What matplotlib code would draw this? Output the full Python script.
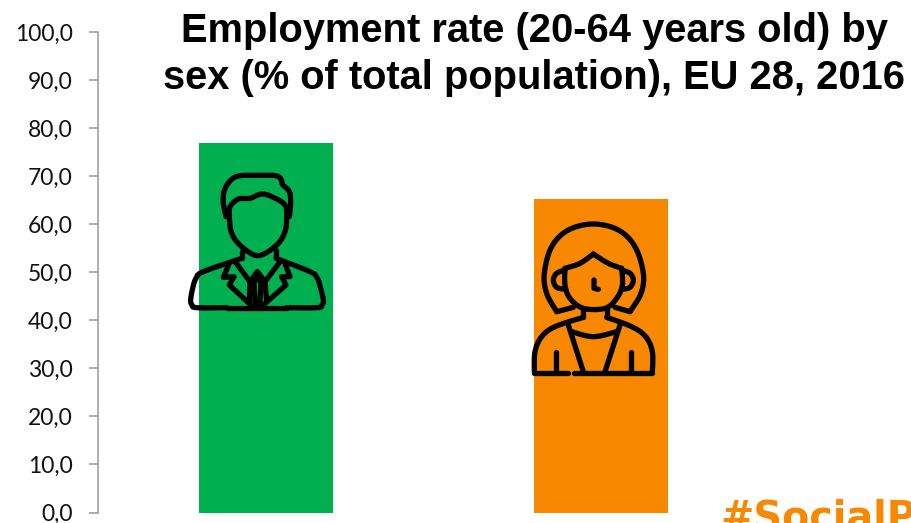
import matplotlib
matplotlib.use("Agg")
import matplotlib.pyplot as plt
import numpy as np

W, H = 912, 523

groups = ["Men", "Women"]
rates = [76.9, 65.3]
bar_colors = ["#00B050", "#F78800"]
yticks = [0, 10, 20, 30, 40, 50, 60, 70, 80, 90, 100]
ytick_labels = ["0,0", "10,0", "20,0", "30,0", "40,0", "50,0", "60,0", "70,0", "80,0", "90,0", "100,0"]
title = "Employment rate (20-64 years old) by\nsex (% of total population), EU 28, 2016"
hashtag = "#SocialPillar"

# outlines of the two people icons, in local icon units
man_lines = [
    ([(168, 170), (160, 130), (162, 95), (178, 65), (205, 48), (260, 46), (318, 47), (334, 60), (338, 74),
      (358, 95), (362, 130), (358, 170)], True),
    ([(178, 170), (180, 140), (205, 117), (240, 115), (275, 102), (310, 112), (345, 135), (350, 170), (345, 215),
      (320, 255), (265, 287), (215, 260), (185, 220), (178, 170)], True),
    ([(215, 272), (215, 295)], False),
    ([(318, 270), (318, 295)], False),
    ([(215, 295), (100, 335), (78, 355), (68, 385), (62, 420), (66, 435), (80, 443), (170, 443)], True),
    ([(318, 295), (420, 335), (442, 355), (452, 385), (460, 420), (456, 435), (442, 443), (350, 443)], True),
    ([(170, 443), (350, 443)], False),
    ([(178, 310), (160, 352), (192, 350), (178, 375), (250, 442)], False),
    ([(345, 310), (360, 350), (335, 350), (348, 375), (272, 442)], False),
    ([(195, 305), (240, 365), (262, 335), (285, 365), (330, 305)], False),
    ([(262, 345), (252, 370), (255, 425), (262, 442), (270, 425), (273, 370), (262, 345)], False),
    ([(240, 365), (238, 425)], False),
    ([(285, 365), (290, 425)], False),
]
woman_lines = [
    ([(125, 305), (95, 250), (88, 190), (110, 110), (160, 60), (235, 42), (310, 60), (360, 110), (385, 190),
      (378, 250), (345, 305)], True),
    ([(125, 305), (175, 292)], False),
    ([(345, 305), (300, 292)], False),
    ([(150, 175), (195, 160), (235, 132)], True),
    ([(235, 132), (280, 160), (320, 175)], True),
    ([(150, 175), (150, 225), (165, 265), (205, 295), (270, 295), (305, 265), (322, 225), (320, 175)], True),
    ([(150, 180), (125, 190), (115, 210), (125, 232), (152, 238)], True),
    ([(320, 180), (345, 190), (355, 210), (345, 232), (320, 238)], True),
    ([(237, 210), (237, 235), (250, 238)], False),
    ([(205, 295), (205, 322)], False),
    ([(275, 295), (275, 322)], False),
    ([(205, 322), (120, 350), (80, 380), (60, 425), (58, 488)], True),
    ([(275, 322), (350, 350), (392, 380), (412, 425), (412, 488)], True),
    ([(58, 488), (160, 488)], False),
    ([(178, 488), (412, 488)], False),
    ([(160, 345), (205, 485)], False),
    ([(315, 345), (270, 485)], False),
    ([(170, 365), (235, 380), (305, 365)], True),
    ([(122, 425), (122, 488)], False),
    ([(348, 425), (348, 488)], False),
]


def smooth(points, n=12):
    # catmull-rom through the outline points
    p = np.array(points, dtype=float)
    p = np.vstack([p[0], p, p[-1]])
    out = []
    for i in range(1, len(p) - 2):
        for t in np.linspace(0, 1, n, endpoint=False):
            out.append(0.5 * (2 * p[i] + (p[i + 1] - p[i - 1]) * t
                              + (2 * p[i - 1] - 5 * p[i] + 4 * p[i + 1] - p[i + 2]) * t ** 2
                              + (3 * p[i] - p[i - 1] - 3 * p[i + 1] + p[i + 2]) * t ** 3))
    out.append(p[-2])
    return np.array(out)


def draw_icon(ax, lines, x0, y0):
    for pts, curved in lines:
        xy = smooth(pts) if curved else np.array(pts, dtype=float)
        ax.plot(x0 + xy[:, 0] / 3, y0 + xy[:, 1] / 3, color="black", lw=3.8,
                solid_capstyle="round", solid_joinstyle="round")


fig = plt.figure(figsize=(W / 100, H / 100), dpi=100)
ax = fig.add_axes([98.5 / W, 1 - 512.5 / H, 670 / W, 480.5 / H])

ax.bar(range(len(groups)), rates, width=0.402, color=bar_colors)
ax.set_xlim(-0.5, 1.5)
ax.set_ylim(0, 100)
ax.set_xticks([])
ax.set_yticks(yticks)
ax.set_yticklabels(ytick_labels, fontfamily="Lato", fontsize=16.5, color="#111111")
ax.tick_params(axis="y", length=6.5, width=1.2, color="#A0A0A0", pad=12)
for side in ["top", "right", "bottom"]:
    ax.spines[side].set_visible(False)
ax.spines["left"].set_color("#A0A0A0")
ax.spines["left"].set_linewidth(1.2)

fig.text(534 / W, 1 - 54.5 / H, title, fontfamily="Liberation Sans", fontweight="bold", fontsize=28.7,
         ha="center", va="center", linespacing=1.27, color="black")
fig.text(720 / W, 1 - 498 / H, hashtag, fontfamily="DejaVu Sans", fontweight="bold", fontsize=28.5,
         color="#F78800", ha="left", va="top")

# overlay in pixel units for the icons
overlay = fig.add_axes([0, 0, 1, 1])
overlay.set_xlim(0, W)
overlay.set_ylim(H, 0)
overlay.axis("off")
draw_icon(overlay, man_lines, 170, 160)
draw_icon(overlay, woman_lines, 515, 210)

fig.savefig("out.png", dpi=100)
